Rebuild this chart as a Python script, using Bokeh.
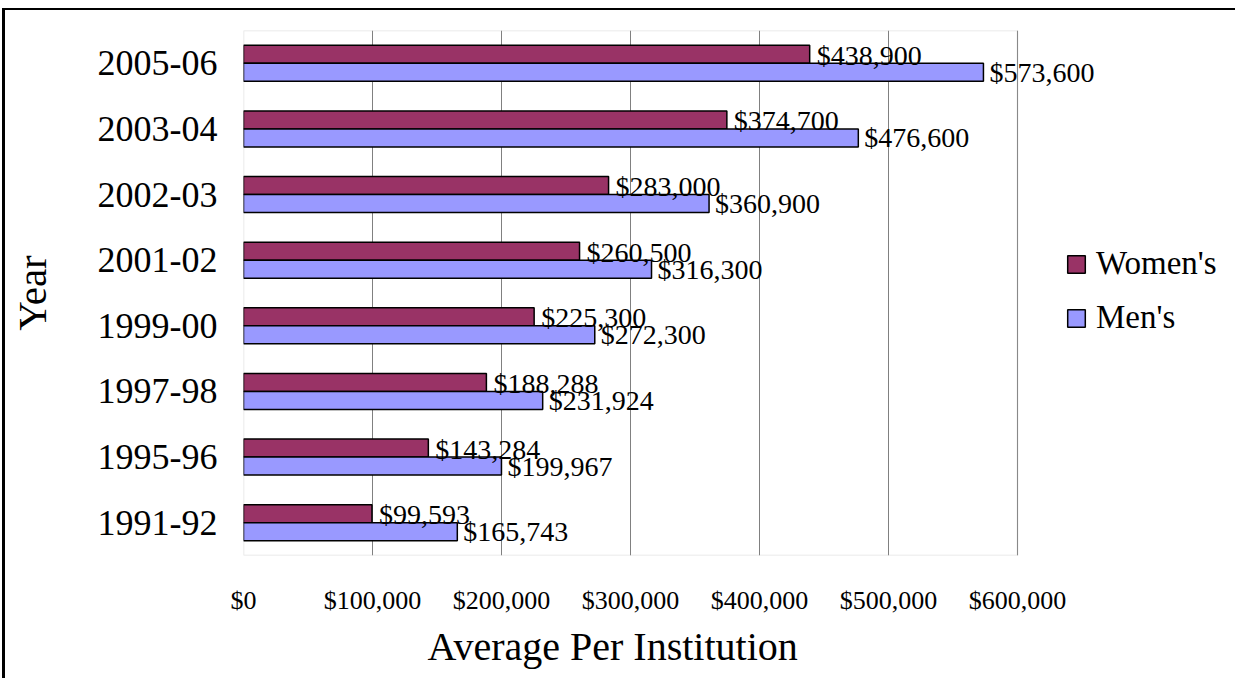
from bokeh.plotting import figure
from bokeh.models import (FactorRange, Range1d, FixedTicker, NumeralTickFormatter, ColumnDataSource,
                          Legend, LegendItem, BoxAnnotation, Title)
from bokeh.transform import dodge
from bokeh.core.properties import value
from bokeh.embed import file_html
from bokeh.resources import INLINE

years = ["1991-92", "1995-96", "1997-98", "1999-00", "2001-02", "2002-03", "2003-04", "2005-06"]
womens = [99593, 143284, 188288, 225300, 260500, 283000, 374700, 438900]
mens = [165743, 199967, 231924, 272300, 316300, 360900, 476600, 573600]
x_ticks = [0, 100000, 200000, 300000, 400000, 500000, 600000]

FONT = "Liberation Serif"
W_COLOR = "#993366"
M_COLOR = "#9999FF"

src = ColumnDataSource(dict(
    year=years, women=womens, men=mens,
    wlab=[f"${v:,}" for v in womens],
    mlab=[f"${v:,}" for v in mens],
))

# frame extends to the right of the value axis so that labels and legend are not clipped
FRAME_W = 989
X_END = x_ticks[-1] * FRAME_W / 774

p = figure(
    y_range=FactorRange(factors=years), x_range=Range1d(x_ticks[0], X_END),
    width=1228, height=668, frame_width=FRAME_W, frame_height=525,
    min_border_left=225, min_border_top=20, min_border_right=3, min_border_bottom=123,
    output_backend="svg", toolbar_location=None,
)
p.styles = {"border-left": "3px solid black", "border-top": "2px solid black",
            "margin-left": "2px", "margin-top": "8px"}

wr = p.hbar(y=dodge("year", 0.1375, range=p.y_range), right="women", left=0, height=0.275,
            source=src, fill_color=W_COLOR, line_color="black", line_width=1.5)
mr = p.hbar(y=dodge("year", -0.1375, range=p.y_range), right="men", left=0, height=0.275,
            source=src, fill_color=M_COLOR, line_color="black", line_width=1.5)

p.text(x="women", y=dodge("year", 0.1375, range=p.y_range), text="wlab", source=src,
       x_offset=7, y_offset=1, text_baseline="middle", text_align="left",
       text_font=value(FONT), text_font_size="28px", text_color="black")
p.text(x="men", y=dodge("year", -0.1375, range=p.y_range), text="mlab", source=src,
       x_offset=6, y_offset=0, text_baseline="middle", text_align="left",
       text_font=value(FONT), text_font_size="28px", text_color="black")

# plot-area border (only spans the value axis)
box = BoxAnnotation(left=x_ticks[0], right=x_ticks[-1], fill_alpha=0,
                    line_color="#a0a0a0", line_width=1.5, level="underlay")
p.add_layout(box)

# grid
p.ygrid.grid_line_color = None
p.xgrid.ticker = FixedTicker(ticks=x_ticks)
p.xgrid.grid_line_color = "#808080"
p.xgrid.grid_line_width = 1
p.outline_line_color = None
p.background_fill_color = "white"
p.border_fill_color = "white"

# x axis
p.xaxis.ticker = FixedTicker(ticks=x_ticks)
p.xaxis.formatter = NumeralTickFormatter(format="$0,0")
p.xaxis.axis_line_color = None
p.xaxis.major_tick_line_color = None
p.xaxis.minor_tick_line_color = None
p.xaxis.major_label_standoff = 24
p.xaxis.major_label_text_font = FONT
p.xaxis.major_label_text_font_size = "26px"
p.xaxis.major_label_text_color = "black"

xtitle = Title(text="Average Per Institution", align="left", offset=184,
               text_font=FONT, text_font_size="40px", text_font_style="normal",
               text_color="black", standoff=9)
p.add_layout(xtitle, "below")

# y axis
p.yaxis.axis_line_color = None
p.yaxis.major_tick_line_color = None
p.yaxis.minor_tick_line_color = None
p.yaxis.major_label_standoff = 20
p.yaxis.major_label_text_font = FONT
p.yaxis.major_label_text_font_size = "36px"
p.yaxis.major_label_text_color = "black"
p.yaxis.axis_label = "Year"
p.yaxis.axis_label_text_font = FONT
p.yaxis.axis_label_text_font_size = "41px"
p.yaxis.axis_label_text_font_style = "normal"
p.yaxis.axis_label_text_color = "black"
p.yaxis.axis_label_standoff = 40

legend = Legend(
    items=[LegendItem(label="Women's", renderers=[wr]), LegendItem(label="Men's", renderers=[mr])],
    location=(822, 219), orientation="vertical",
    label_text_font=FONT, label_text_font_size="33px", label_text_color="black",
    glyph_width=22, glyph_height=22, label_standoff=9, spacing=17, padding=0, margin=0,
    border_line_color=None, background_fill_alpha=0,
)
p.add_layout(legend, "center")

open("out.html", "w").write(file_html(p, INLINE))
